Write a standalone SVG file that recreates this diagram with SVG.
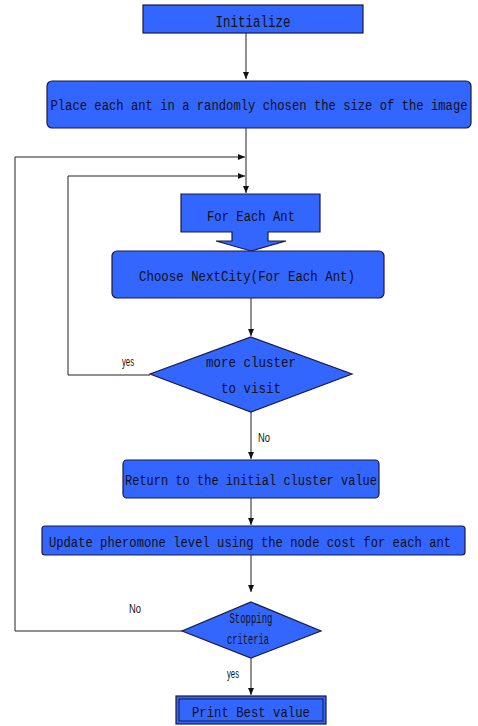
<svg xmlns="http://www.w3.org/2000/svg" width="478" height="726" viewBox="0 0 478 726">
<defs>
<style>
.box{fill:#3366ff;stroke:#1a1a40;stroke-width:1.2}
.t{font-family:"Liberation Mono","DejaVu Sans Mono",monospace;font-size:15.5px;fill:#111;text-anchor:middle}
.tn{font-family:"Liberation Mono","DejaVu Sans Mono",monospace;font-size:12.2px;fill:#111;text-anchor:middle}
.ts{font-family:"Liberation Mono","DejaVu Sans Mono",monospace;font-size:15px;fill:#111;text-anchor:middle}
.lbl{font-family:"Liberation Sans Narrow","Liberation Sans",Arial,sans-serif;font-size:12px;fill:#111;text-anchor:middle}
.ln{fill:none;stroke:#222;stroke-width:1}
</style>
<marker id="ah" markerWidth="8" markerHeight="8" refX="7" refY="4" orient="auto" markerUnits="userSpaceOnUse">
<path d="M0,1 L7,4 L0,7 Z" fill="#111"/>
</marker>
</defs>
<rect width="478" height="726" fill="#fff"/>
<g id="connectors">
<line class="ln" x1="246" y1="33" x2="246" y2="79" marker-end="url(#ah)"/>
<line class="ln" x1="246" y1="128" x2="246" y2="193" marker-end="url(#ah)"/>
<polyline class="ln" points="182,631 15,631 15,157 245,157" marker-end="url(#ah)"/>
<polyline class="ln" points="150,375 68,375 68,176 245,176" marker-end="url(#ah)"/>
<line class="ln" x1="251" y1="298" x2="251" y2="336" marker-end="url(#ah)"/>
<line class="ln" x1="251" y1="412" x2="251" y2="459" marker-end="url(#ah)"/>
<line class="ln" x1="251" y1="488" x2="251" y2="525" marker-end="url(#ah)"/>
<line class="ln" x1="251" y1="555" x2="251" y2="592" marker-end="url(#ah)"/>
<line class="ln" x1="251" y1="658" x2="251" y2="695" marker-end="url(#ah)"/>
<text class="lbl" x="128" y="366" textLength="12" lengthAdjust="spacingAndGlyphs">yes</text>
<text class="lbl" x="264" y="442" textLength="12" lengthAdjust="spacingAndGlyphs">No</text>
<text class="lbl" x="135" y="613" textLength="12" lengthAdjust="spacingAndGlyphs">No</text>
<text class="lbl" x="233" y="678" textLength="12" lengthAdjust="spacingAndGlyphs">yes</text>
</g>
<g id="initialize">
<rect class="box" x="143" y="5" width="220" height="28"/>
<text class="t" x="253" y="27" style="font-size:17px" textLength="75" lengthAdjust="spacingAndGlyphs">Initialize</text>
</g>
<g id="place">
<rect class="box" x="47" y="81" width="424" height="47" rx="5"/>
<text class="tn" transform="translate(259,110) scale(1,1.27)" x="0" y="0">Place each ant in a randomly chosen the size of the image</text>
</g>
<g id="for-each-ant">
<path class="box" d="M181,194 H320 V232 H268 V241 H286 L251,251 L216,241 H232 V232 H181 Z"/>
<text class="t" x="251" y="221" textLength="88" lengthAdjust="spacingAndGlyphs">For Each Ant</text>
</g>
<g id="choose">
<rect class="box" x="112" y="251" width="272" height="47" rx="5"/>
<text class="t" x="247" y="281" textLength="216" lengthAdjust="spacingAndGlyphs">Choose NextCity(For Each Ant)</text>
</g>
<g id="more-cluster">
<polygon class="box" points="251,337 352,374 251,412 150,374"/>
<text class="t" x="251" y="367" textLength="90" lengthAdjust="spacingAndGlyphs">more cluster</text>
<text class="t" x="251" y="393" textLength="60" lengthAdjust="spacingAndGlyphs">to visit</text>
</g>
<g id="return">
<rect class="box" x="123" y="460" width="256" height="38" rx="4"/>
<text class="t" x="251" y="485" textLength="252" lengthAdjust="spacingAndGlyphs">Return to the initial cluster value</text>
</g>
<g id="update">
<rect class="box" x="42" y="526" width="423" height="29" rx="3"/>
<text class="tn" transform="translate(250,547) scale(1,1.26)" x="0" y="0">Update pheromone level using the node cost for each ant</text>
</g>
<g id="stopping">
<polygon class="box" points="251,602 321,631 251,658 182,631"/>
<text class="ts" x="251" y="623" textLength="43" lengthAdjust="spacingAndGlyphs">Stopping</text>
<text class="ts" x="248" y="644" textLength="42" lengthAdjust="spacingAndGlyphs">criteria</text>
</g>
<g id="print">
<rect class="box" x="176" y="696" width="150" height="28"/>
<rect x="179" y="699" width="144" height="22" fill="none" stroke="#1a1a40" stroke-width="1"/>
<text class="t" x="251" y="717" textLength="118" lengthAdjust="spacingAndGlyphs">Print Best value</text>
</g>
</svg>
